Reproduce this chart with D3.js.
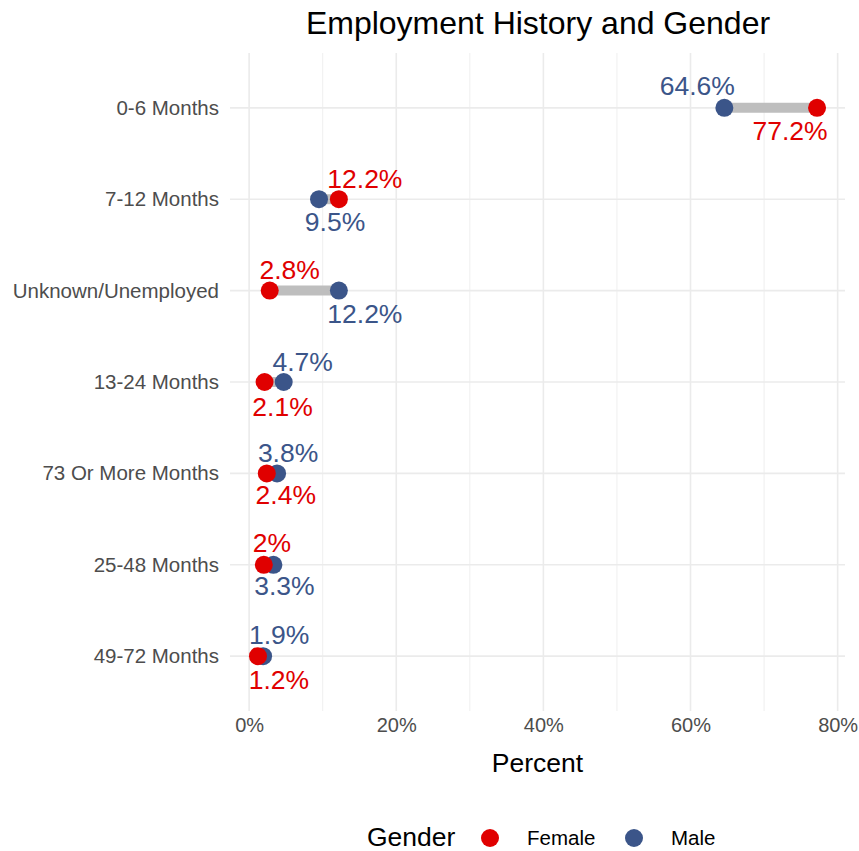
<!DOCTYPE html>
<html lang="en">
<head>
    <meta charset="UTF-8">
    <title>Employment History and Gender</title>
    <script src="https://d3js.org/d3.v7.min.js"></script>
    <style>
        body { margin: 0; background: #fff; }
        svg { display: block; font-family: "Liberation Sans", Arial, sans-serif; }
        .grid line { stroke: #ebebeb; }
        .ylab text { fill: #4d4d4d; font-size: 20.5px; }
        .xlab text { fill: #4d4d4d; font-size: 20px; }
    </style>
</head>
<body>
    <svg width="859" height="851"></svg>

    <script>
        // Data
        var categories = ["0-6 Months", "7-12 Months", "Unknown/Unemployed", "13-24 Months",
                          "73 Or More Months", "25-48 Months", "49-72 Months"];
        var female = [77.2, 12.2, 2.8, 2.1, 2.4, 2.0, 1.2];
        var male = [64.6, 9.5, 12.2, 4.7, 3.8, 3.3, 1.9];
        var femaleText = ["77.2%", "12.2%", "2.8%", "2.1%", "2.4%", "2%", "1.2%"];
        var maleText = ["64.6%", "9.5%", "12.2%", "4.7%", "3.8%", "3.3%", "1.9%"];
        var xTicks = [0, 20, 40, 60, 80];

        // label placement (repelled labels), px offsets from the point
        var femaleNudge = [[-27, 23], [26, -21], [20, -21], [18, 24], [19, 21], [8, -22], [21, 23]];
        var maleNudge = [[-27, -22], [16, 22], [26, 23], [19, -21], [11, -21], [11, 21], [16, -22]];

        var colFemale = "#e00000", colMale = "#3b5589";

        var svg = d3.select("svg");
        var panel = {left: 230, right: 845, top: 53, bottom: 711};

        var x = d3.scaleLinear().domain([-2.6, 81.0]).range([panel.left, panel.right]);
        var y = d3.scalePoint().domain(categories).range([panel.top, panel.bottom]).padding(0.6);

        // grid
        var grid = svg.append("g").attr("class", "grid");
        var minor = [10, 30, 50, 70];
        grid.selectAll(".minor").data(minor).enter().append("line")
            .attr("x1", function(d) { return x(d); }).attr("x2", function(d) { return x(d); })
            .attr("y1", panel.top).attr("y2", panel.bottom)
            .attr("stroke-width", 0.8);
        grid.selectAll(".major").data(xTicks).enter().append("line")
            .attr("x1", function(d) { return x(d); }).attr("x2", function(d) { return x(d); })
            .attr("y1", panel.top).attr("y2", panel.bottom)
            .attr("stroke-width", 1.6);
        grid.selectAll(".hz").data(categories).enter().append("line")
            .attr("x1", panel.left).attr("x2", panel.right)
            .attr("y1", function(d) { return y(d); }).attr("y2", function(d) { return y(d); })
            .attr("stroke-width", 1.6);

        // axes
        var yAxis = svg.append("g").attr("class", "ylab")
            .attr("transform", "translate(" + panel.left + ",0)")
            .call(d3.axisLeft(y).tickSize(0).tickPadding(11));
        yAxis.select(".domain").remove();

        var xAxis = svg.append("g").attr("class", "xlab")
            .attr("transform", "translate(0," + panel.bottom + ")")
            .call(d3.axisBottom(x).tickValues(xTicks).tickSize(0).tickPadding(7)
                .tickFormat(function(d) { return d + "%"; }));
        xAxis.select(".domain").remove();

        // segments
        svg.append("g").selectAll("line").data(categories).enter().append("line")
            .attr("x1", function(d, i) { return x(female[i]); })
            .attr("x2", function(d, i) { return x(male[i]); })
            .attr("y1", function(d) { return y(d); })
            .attr("y2", function(d) { return y(d); })
            .attr("stroke", "#bebebe")
            .attr("stroke-width", 10);

        // points
        function drawPoints(vals, col) {
            svg.append("g").selectAll("circle").data(categories).enter().append("circle")
                .attr("cx", function(d, i) { return x(vals[i]); })
                .attr("cy", function(d) { return y(d); })
                .attr("r", 9)
                .attr("fill", col);
        }
        drawPoints(male, colMale);
        drawPoints(female, colFemale);

        // labels
        function drawLabels(vals, txt, nudge, col) {
            svg.append("g").selectAll("text").data(categories).enter().append("text")
                .attr("x", function(d, i) { return x(vals[i]) + nudge[i][0]; })
                .attr("y", function(d, i) { return y(d) + nudge[i][1]; })
                .attr("dy", "0.36em")
                .attr("text-anchor", "middle")
                .attr("font-size", "26.5px")
                .attr("fill", col)
                .text(function(d, i) { return txt[i]; });
        }
        drawLabels(female, femaleText, femaleNudge, colFemale);
        drawLabels(male, maleText, maleNudge, colMale);

        // titles
        svg.append("text")
            .attr("x", (panel.left + panel.right) / 2 + 0.5).attr("y", 22).attr("dy", "0.36em")
            .attr("text-anchor", "middle").attr("font-size", "32px").attr("fill", "#000")
            .text("Employment History and Gender");
        svg.append("text")
            .attr("x", (panel.left + panel.right) / 2).attr("y", 762).attr("dy", "0.36em")
            .attr("text-anchor", "middle").attr("font-size", "26.5px").attr("fill", "#000")
            .text("Percent");

        // legend
        var legend = svg.append("g");
        legend.append("text").attr("x", 367).attr("y", 836).attr("dy", "0.36em")
            .attr("font-size", "26.5px").attr("fill", "#000").text("Gender");
        var legItems = [["Female", colFemale, 490], ["Male", colMale, 634]];
        legItems.forEach(function(it) {
            legend.append("circle").attr("cx", it[2]).attr("cy", 838).attr("r", 9).attr("fill", it[1]);
            legend.append("text").attr("x", it[2] + 37).attr("y", 838).attr("dy", "0.36em")
                .attr("font-size", "20.5px").attr("fill", "#000").text(it[0]);
        });
    </script>
</body>
</html>
